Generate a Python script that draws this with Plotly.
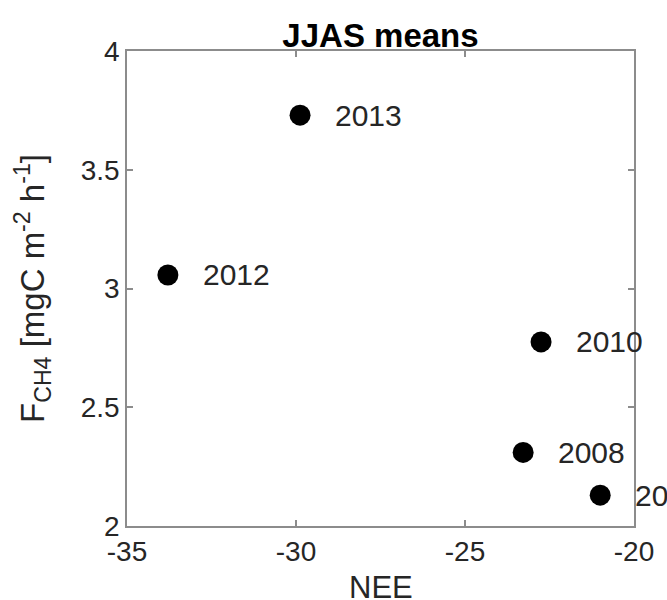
import plotly.graph_objects as go

years = ["2008", "2010", "2012", "2013", "2009"]
nee = [-23.28, -22.75, -33.79, -29.88, -21.0]
fch4 = [2.31, 2.775, 3.057, 3.73, 2.13]

x_ticks = [-35, -30, -25, -20]
y_ticks = [2, 2.5, 3, 3.5, 4]
y_ticklabels = ["2", "2.5", "3", "3.5", "4"]

FONT = "Liberation Sans, Arial, Helvetica, sans-serif"
TXT = "#262626"

fig = go.Figure()
fig.add_trace(go.Scatter(
    x=nee, y=fch4, mode="markers",
    marker=dict(color="black", size=21, line=dict(width=0)),
    cliponaxis=False, showlegend=False, hoverinfo="skip"))

for xv, yv, t in zip(nee, fch4, years):
    fig.add_annotation(x=xv, y=yv, text=t, showarrow=False, xanchor="left",
                       yanchor="middle", xshift=33,
                       font=dict(family=FONT, size=30, color=TXT))

# x-axis title placed below the tick labels
fig.add_annotation(x=0.5, y=-61 / 475, xref="paper", yref="paper", text="NEE",
                   showarrow=False, xanchor="center", yanchor="middle",
                   font=dict(family=FONT, size=31, color=TXT))

axis_common = dict(showgrid=False, zeroline=False, showline=True, mirror="ticks",
                   linecolor="#8c8c8c", linewidth=1.5, ticks="inside", ticklen=6,
                   tickcolor="#8c8c8c", tickwidth=1.5, automargin=False,
                   tickfont=dict(family=FONT, size=28, color=TXT))

fig.update_xaxes(range=[-35, -20], tickvals=x_ticks,
                 ticktext=[str(v) for v in x_ticks],
                 **axis_common)
fig.update_yaxes(range=[2, 4], tickvals=y_ticks, ticktext=y_ticklabels,
                 title=dict(text="F<sub>CH4</sub> [mgC m<sup>-2</sup> h<sup>-1</sup>]",
                            font=dict(family=FONT, size=33, color=TXT), standoff=26),
                 **axis_common)

fig.update_layout(
    width=667, height=600,
    margin=dict(l=127, r=33, t=51, b=74),
    plot_bgcolor="white", paper_bgcolor="white",
    title=dict(text="<b>JJAS means</b>", x=(127 + 634) / 2 / 667, xanchor="center",
               y=1 - 35 / 600, yanchor="middle",
               font=dict(family=FONT, size=33, color="black")),
)

fig.write_html("out.html")
